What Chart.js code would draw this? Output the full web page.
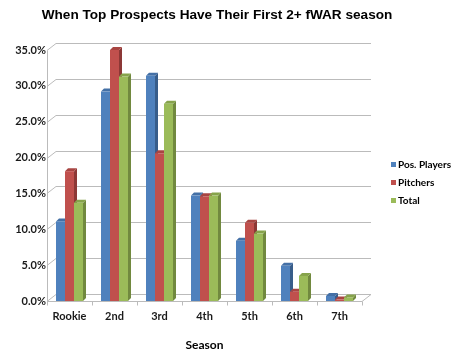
<!DOCTYPE html>
<html>
<head>
<meta charset="utf-8">
<script src="https://cdn.jsdelivr.net/npm/chart.js@4/dist/chart.umd.min.js"></script>
<style>
  html, body { margin: 0; padding: 0; background: #ffffff; }
  #wrap { width: 455px; height: 357px; }
</style>
</head>
<body>
<div id="wrap"><canvas id="c" width="455" height="357"></canvas></div>
<script>
const chartTitle = 'When Top Prospects Have Their First 2+ fWAR season';
const xAxisTitle = 'Season';
const categories = ['Rookie', '2nd', '3rd', '4th', '5th', '6th', '7th'];
const seriesNames = ['Pos. Players', 'Pitchers', 'Total'];
const posPlayers = [11.1, 29.2, 31.4, 14.7, 8.4, 4.9, 0.7];
const pitchers = [18.1, 35.0, 20.6, 14.6, 10.9, 1.3, 0.2];
const total = [13.7, 31.3, 27.5, 14.7, 9.4, 3.5, 0.5];
const yMin = 0, yMax = 35, yStep = 5;

const frontColors = ['#4F81BD', '#C0504D', '#9BBB59'];
const topColors = ['#4470A6', '#A84542', '#86A34B'];
const sideColors = ['#385D8A', '#8C3836', '#71893F'];
const gridColor = '#BBBBBB';
const FONT = 'Lato, "Liberation Sans", Arial, sans-serif';

const BAR_D = 3;      // bar depth offset
const WALL_DX = 9, WALL_DY = 7;  // back wall offset

const threeD = {
  id: 'threeD',
  beforeDatasetsDraw(chart) {
    const ctx = chart.ctx;
    const ys = chart.scales.y;
    const L = chart.chartArea.left, R = chart.chartArea.right;
    const B = chart.chartArea.bottom;
    ctx.save();
    ctx.strokeStyle = gridColor;
    ctx.lineWidth = 1;
    for (let v = yMin; v <= yMax + 1e-9; v += yStep) {
      const y = Math.round(ys.getPixelForValue(v)) + 0.5;
      ctx.beginPath();
      ctx.moveTo(L, y);
      ctx.lineTo(L + WALL_DX, y - WALL_DY);
      ctx.lineTo(R + WALL_DX, y - WALL_DY);
      ctx.stroke();
    }
    const yTop = Math.round(ys.getPixelForValue(yMax)) + 0.5;
    ctx.beginPath();
    ctx.moveTo(L + 0.5, yTop);
    ctx.lineTo(L + 0.5, B + 0.5);
    ctx.stroke();
    const yb = Math.round(B) + 0.5;
    ctx.beginPath();
    ctx.moveTo(L, yb);
    ctx.lineTo(R, yb);
    ctx.lineTo(R + WALL_DX, yb - WALL_DY);
    ctx.stroke();
    const n = categories.length;
    for (let i = 0; i <= n; i++) {
      const x = Math.round(L + (R - L) * i / n) + 0.5;
      ctx.beginPath();
      ctx.moveTo(x, yb);
      ctx.lineTo(x, yb + 4);
      ctx.stroke();
    }
    const metas = chart.data.datasets.map((d, i) => chart.getDatasetMeta(i));
    for (let i = 0; i < n; i++) {
      metas.forEach((meta, di) => {
        const el = meta.data[i];
        if (!el) return;
        const p = el.getProps(['x', 'y', 'base', 'width'], true);
        const x0 = p.x - p.width / 2, x1 = p.x + p.width / 2;
        const top = p.y, base = p.base;
        const d = BAR_D;
        ctx.fillStyle = sideColors[di];
        ctx.beginPath();
        ctx.moveTo(x1, top);
        ctx.lineTo(x1 + d, top - d);
        ctx.lineTo(x1 + d, base - d);
        ctx.lineTo(x1, base);
        ctx.closePath();
        ctx.fill();
        ctx.fillStyle = topColors[di];
        ctx.beginPath();
        ctx.moveTo(x0, top);
        ctx.lineTo(x0 + d, top - d);
        ctx.lineTo(x1 + d, top - d);
        ctx.lineTo(x1, top);
        ctx.closePath();
        ctx.fill();
        ctx.fillStyle = frontColors[di];
        ctx.fillRect(x0, top, p.width, base - top);
      });
    }
    ctx.restore();
    return false;
  },
  afterDraw(chart) {
    const ctx = chart.ctx;
    ctx.save();
    ctx.fillStyle = '#000000';
    ctx.font = 'bold 13.6px "Liberation Sans", Arial, sans-serif';
    ctx.textAlign = 'center';
    ctx.textBaseline = 'middle';
    ctx.fillText(chartTitle, 217, 15);
    ctx.font = 'bold 10px ' + FONT;
    ctx.textAlign = 'left';
    const ly = [164.5, 182.5, 200.5];
    chart.data.datasets.forEach((ds, i) => {
      ctx.fillStyle = frontColors[i];
      ctx.fillRect(391, ly[i] - 2.5, 5, 5);
      ctx.fillStyle = '#000000';
      ctx.fillText(ds.label, 398, ly[i] + 0.5);
    });
    ctx.restore();
  }
};

new Chart(document.getElementById('c'), {
  type: 'bar',
  data: {
    labels: categories,
    datasets: [
      { label: seriesNames[0], data: posPlayers, backgroundColor: frontColors[0] },
      { label: seriesNames[1], data: pitchers, backgroundColor: frontColors[1] },
      { label: seriesNames[2], data: total, backgroundColor: frontColors[2] }
    ]
  },
  options: {
    responsive: false,
    animation: false,
    devicePixelRatio: 1,
    layout: { padding: { top: 50, right: 93, left: 0, bottom: 0 } },
    datasets: { bar: { categoryPercentage: 0.6, barPercentage: 1.0 } },
    plugins: {
      legend: { display: false },
      title: { display: false },
      tooltip: { enabled: false }
    },
    scales: {
      x: {
        grid: { display: false, drawTicks: false },
        border: { display: false },
        ticks: { color: '#1a1a1a', font: { family: FONT, size: 11, weight: 'bold' }, padding: 9, maxRotation: 0 },
        title: { display: true, text: xAxisTitle, color: '#000000', font: { family: FONT, size: 12, weight: 'bold' }, padding: { top: 0, bottom: 5 } },
        afterFit(s) { s.height = 56; }
      },
      y: {
        min: yMin, max: yMax,
        grid: { display: false, drawTicks: false },
        border: { display: false },
        ticks: {
          stepSize: yStep,
          color: '#1a1a1a',
          font: { family: FONT, size: 11, weight: 'bold' },
          padding: 1,
          callback: v => v.toFixed(1) + '%'
        },
        afterFit(s) { s.width = 47; }
      }
    }
  },
  plugins: [threeD]
});
</script>
</body>
</html>
